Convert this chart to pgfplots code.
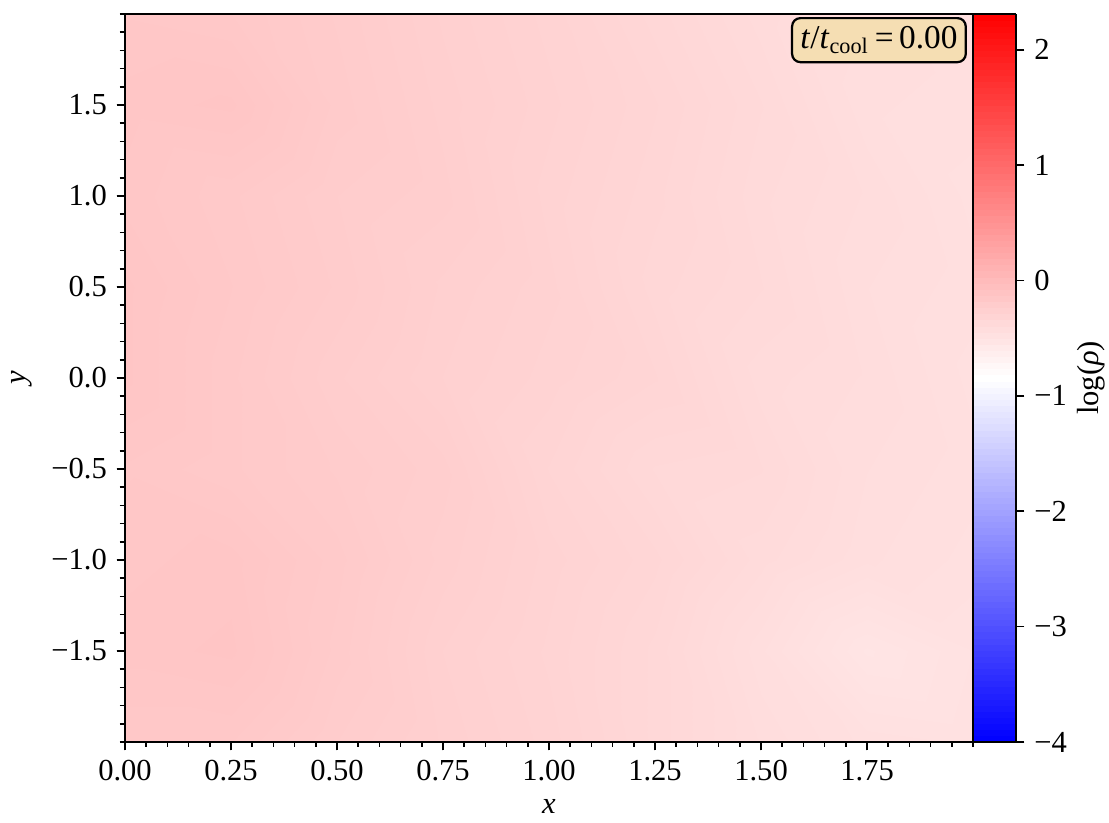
\documentclass[border=0pt]{standalone}
\usepackage{fontspec}
\setmainfont{Liberation Serif}
\usepackage{pgfplots}
\pgfplotsset{compat=1.18}
\definecolor{wheat}{RGB}{245,222,179}
\pgfplotstableread{
x y v
0.00 -2.0 -0.17
0.25 -2.0 -0.17
0.50 -2.0 -0.22
0.75 -2.0 -0.26
1.00 -2.0 -0.30
1.25 -2.0 -0.36
1.50 -2.0 -0.42
1.75 -2.0 -0.46
2.00 -2.0 -0.47

0.00 -1.5 -0.14
0.25 -1.5 -0.13
0.50 -1.5 -0.20
0.75 -1.5 -0.27
1.00 -1.5 -0.31
1.25 -1.5 -0.36
1.50 -1.5 -0.44
1.75 -1.5 -0.52
2.00 -1.5 -0.48

0.00 -1.0 -0.15
0.25 -1.0 -0.14
0.50 -1.0 -0.19
0.75 -1.0 -0.25
1.00 -1.0 -0.30
1.25 -1.0 -0.34
1.50 -1.0 -0.40
1.75 -1.0 -0.44
2.00 -1.0 -0.46

0.00 -0.5 -0.16
0.25 -0.5 -0.18
0.50 -0.5 -0.21
0.75 -0.5 -0.24
1.00 -0.5 -0.32
1.25 -0.5 -0.37
1.50 -0.5 -0.38
1.75 -0.5 -0.43
2.00 -0.5 -0.45

0.00 0.0 -0.13
0.25 0.0 -0.18
0.50 0.0 -0.23
0.75 0.0 -0.27
1.00 0.0 -0.30
1.25 0.0 -0.33
1.50 0.0 -0.40
1.75 0.0 -0.42
2.00 0.0 -0.46

0.00 0.5 -0.13
0.25 0.5 -0.17
0.50 0.5 -0.21
0.75 0.5 -0.26
1.00 0.5 -0.29
1.25 0.5 -0.35
1.50 0.5 -0.38
1.75 0.5 -0.43
2.00 0.5 -0.45

0.00 1.0 -0.15
0.25 1.0 -0.18
0.50 1.0 -0.22
0.75 1.0 -0.24
1.00 1.0 -0.30
1.25 1.0 -0.34
1.50 1.0 -0.39
1.75 1.0 -0.42
2.00 1.0 -0.46

0.00 1.5 -0.14
0.25 1.5 -0.13
0.50 1.5 -0.20
0.75 1.5 -0.25
1.00 1.5 -0.29
1.25 1.5 -0.33
1.50 1.5 -0.38
1.75 1.5 -0.44
2.00 1.5 -0.45

0.00 2.0 -0.16
0.25 2.0 -0.17
0.50 2.0 -0.21
0.75 2.0 -0.26
1.00 2.0 -0.30
1.25 2.0 -0.35
1.50 2.0 -0.40
1.75 2.0 -0.43
2.00 2.0 -0.46
}\densitytable
\begin{document}
\begin{tikzpicture}[font=\fontsize{11}{13}\selectfont]
\begin{axis}[
  at={(0,0)}, anchor=south west,
  scale only axis, width=305.3pt, height=262.1pt,
  xmin=0, xmax=2, ymin=-2, ymax=2,
  view={0}{90},
  xtick={0,0.25,0.5,0.75,1,1.25,1.5,1.75},
  xticklabels={0.00,0.25,0.50,0.75,1.00,1.25,1.50,1.75},
  ytick={-1.5,-1,-0.5,0,0.5,1,1.5},
  yticklabels={−1.5,−1.0,−0.5,0.0,0.5,1.0,1.5},
  minor xtick={0,0.05,...,2.01},
  minor ytick={-2,-1.9,...,2.01},
  tick align=outside, xtick pos=left, ytick pos=left,
  major tick length=3pt, minor tick length=1.8pt,
  tick style={black, line width=0.6pt},
  axis line style={line width=0.6pt},
  xlabel={\textit{x}}, ylabel={\textit{y}},
  colormap={bwr}{rgb255=(0,0,255) rgb255=(255,255,255) rgb255=(255,0,0)},
  point meta min=-4, point meta max=2.31,
  colorbar sampled,
  colorbar shift/.style={xshift=0pt},
  colorbar style={
    at={(parent axis.north east)}, anchor=north west,
    width=15.5pt, samples=120,
    ytick={-4,-3,-2,-1,0,1,2},
    yticklabels={−4,−3,−2,−1,0,1,2},
    ylabel={log(\textit{ρ})},
    ylabel shift=-3pt,
    tick align=outside, ytick pos=right,
    major tick length=3pt,
    tick style={black, line width=0.6pt},
    axis line style={line width=0.6pt},
  },
  axis on top,
]
\addplot3[surf, shader=interp, point meta=\thisrow{v}] table[x=x, y=y, z=v] {\densitytable};
\node[draw, fill=wheat, rounded corners=3pt, line width=0.8pt, inner sep=3pt,
  font=\fontsize{12}{14}\selectfont] at (rel axis cs:0.889,0.964)
  {\textit{t}/\textit{t}\textsubscript{cool}\,=\,0.00};
\end{axis}
\pgfresetboundingbox
\path[use as bounding box] (-45pt,-29.16pt) rectangle (354.24pt,267.12pt);
\end{tikzpicture}
\end{document}
